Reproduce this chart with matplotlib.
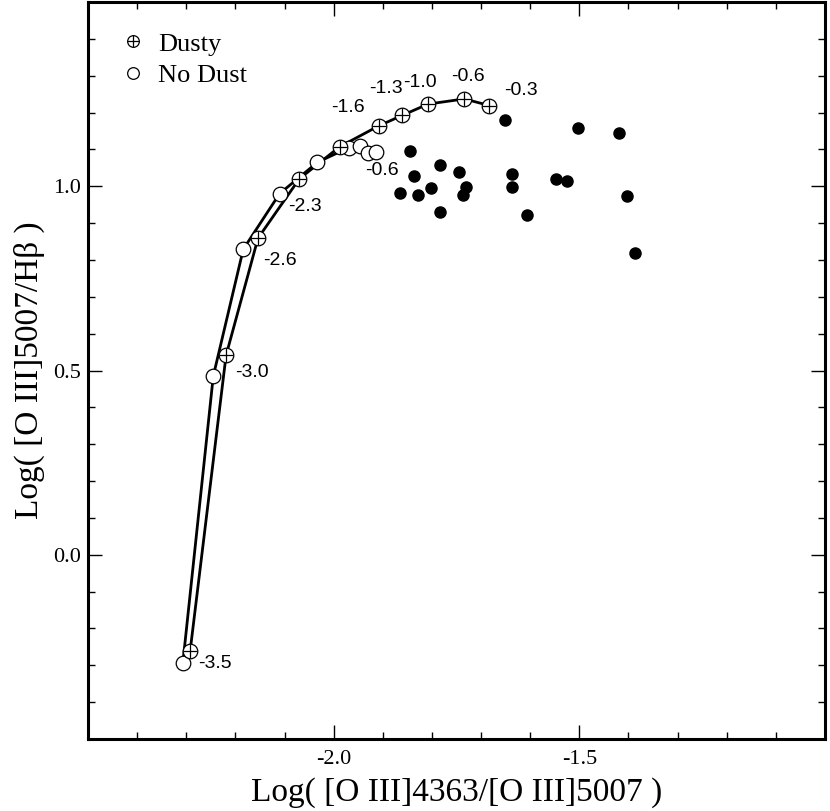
"""
[O III]5007/Hb vs [O III]4363/[O III]5007 diagnostic: dusty and dust-free
model sequences (labelled by log U) with the observed objects as filled dots.
Output: out.png
"""
import numpy as np
import matplotlib; matplotlib.use("Agg"); import matplotlib.pyplot as plt
from matplotlib.ticker import MultipleLocator, FixedLocator

# model sequences, log U along each track
dusty_x = [-2.292, -2.219, -2.154, -2.070, -1.988, -1.908, -1.861, -1.808, -1.734, -1.683]
dusty_y = [-0.260, 0.541, 0.859, 1.020, 1.107, 1.164, 1.192, 1.223, 1.237, 1.219]
dusty_lbl = ["-3.5", "-3.0", "-2.6", "-2.3", "", "-1.6", "-1.3", "-1.0", "-0.6", "-0.3"]

nodust_x = [-2.307, -2.245, -2.184, -2.110, -2.033, -1.969, -1.947, -1.931, -1.913]
nodust_y = [-0.294, 0.485, 0.829, 0.980, 1.065, 1.105, 1.110, 1.090, 1.092]
nodust_lbl = ["", "", "", "", "", "", "", "", "-0.6"]

# observed objects
obs_x = [-1.652, -1.502, -1.419, -1.845, -1.783, -1.745, -1.638, -1.836, -1.865, -1.828,
         -1.802, -1.730, -1.736, -1.638, -1.547, -1.525, -1.403, -1.783, -1.606, -1.387]
obs_y = [1.180, 1.157, 1.145, 1.097, 1.059, 1.039, 1.032, 1.029, 0.982, 0.977,
         0.994, 0.997, 0.977, 0.999, 1.020, 1.013, 0.974, 0.930, 0.923, 0.818]

# label offsets (pixels) from the model point they belong to
dusty_off = [(8, -13), (9, -17), (5, -22), (-11, -28), (0, 0),
             (-48, 18), (-33, 27), (-25, 22), (-13, 22), (15, 15)]
nodust_off = [(0, 0)] * 8 + [(-11, -18)]

SERIF = "Liberation Serif"
SANS = "Liberation Sans"

fig = plt.figure(figsize=(8.3, 8.11), dpi=100)
ax = fig.add_axes([88/830, 72/811, 737/830, 737/811])

MS = 10.5
ax.plot(nodust_x, nodust_y, "-", color="k", lw=2.0, zorder=1)
ax.plot(dusty_x, dusty_y, "-", color="k", lw=2.0, zorder=1)
ax.plot(nodust_x, nodust_y, "o", ms=MS, mfc="white", mec="k", mew=0.9, zorder=3)
ax.plot(dusty_x, dusty_y, "o", ms=MS, mfc="white", mec="k", mew=0.9, zorder=4)
ax.plot(dusty_x, dusty_y, "+", ms=MS, color="k", mew=0.9, zorder=5)
ax.plot(obs_x, obs_y, "o", ms=8, color="k", zorder=6)

for xs, ys, lbls, offs in ((dusty_x, dusty_y, dusty_lbl, dusty_off),
                           (nodust_x, nodust_y, nodust_lbl, nodust_off)):
    for x, y, s, o in zip(xs, ys, lbls, offs):
        if s:
            ax.annotate(s, (x, y), xytext=o, textcoords="offset pixels",
                        ha="left", va="center", fontsize=14, family=SANS)

# legend: circle + plus overlaid for "Dusty"
h_c, = ax.plot([], [], "o", ms=MS, mfc="white", mec="k", mew=0.9)
h_p, = ax.plot([], [], "+", ms=MS, color="k", mew=0.9)
h_o, = ax.plot([], [], "o", ms=MS, mfc="white", mec="k", mew=0.9)
leg = ax.legend([(h_c, h_p), h_o], ["Dusty", "No Dust"], loc="upper left",
                bbox_to_anchor=(0.043, 0.959), frameon=False, markerscale=0.8,
                handlelength=1.0, handletextpad=0.45, borderpad=0, borderaxespad=0,
                labelspacing=0.3, prop={"family": SERIF, "size": 19})

ax.set_xlim(-2.5, -1.0)
ax.set_ylim(-0.5, 1.5)
ax.xaxis.set_major_locator(FixedLocator([-2.0, -1.5]))
ax.yaxis.set_major_locator(FixedLocator([0.0, 0.5, 1.0]))
ax.xaxis.set_minor_locator(MultipleLocator(0.1))
ax.yaxis.set_minor_locator(MultipleLocator(0.1))
ax.set_xticklabels(["-2.0", "-1.5"])
ax.set_yticklabels(["0.0", "0.5", "1.0"])
ax.tick_params(which="both", direction="in", top=True, right=True, width=1.0)
ax.tick_params(which="major", length=10)
ax.tick_params(which="minor", length=5)
ax.tick_params(axis="x", pad=8)
ax.tick_params(axis="y", pad=5)
for t in ax.get_xticklabels() + ax.get_yticklabels():
    t.set_family(SERIF); t.set_fontsize(16)
for sp in ax.spines.values():
    sp.set_linewidth(2.2)

ax.set_xlabel("Log( [O III]4363/[O III]5007 )", family=SERIF, fontsize=24, labelpad=6)
ax.set_ylabel("Log( [O III]5007/H\u03b2 )", family=SERIF, fontsize=24, labelpad=6)

fig.savefig("out.png", dpi=100)
